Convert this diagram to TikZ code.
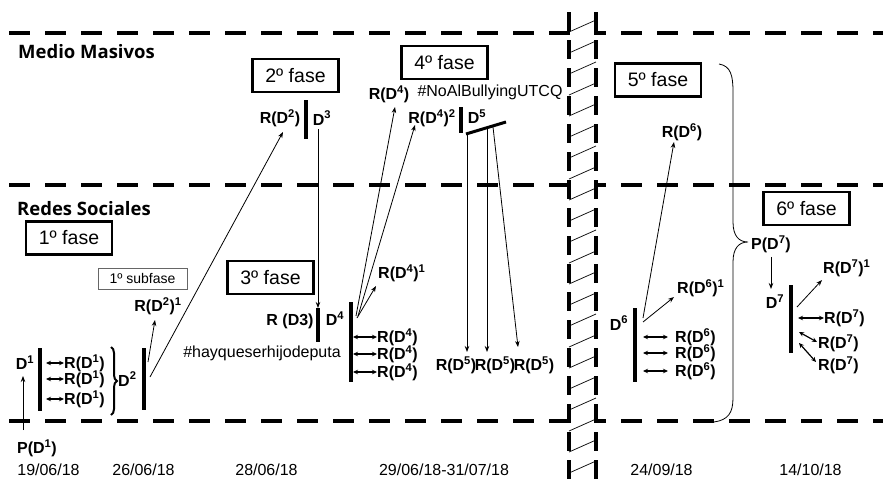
\documentclass[tikz,border=0pt]{standalone}
\usepackage{fontspec}
\setmainfont{Liberation Sans}
\newfontfamily\headfont{Open Sans}
\usetikzlibrary{arrows.meta,decorations.pathreplacing}
\newcommand\Sp[1]{\textsuperscript{#1}}
\begin{document}
\begin{tikzpicture}[x=1pt,y=-1pt,
 hline/.style={line width=4.5pt, dash pattern=on 21pt off 15pt},
 vline/.style={line width=4pt, dash pattern=on 19pt off 9pt},
 bar/.style={line width=3.5pt},
 fasebox/.style={draw, line width=2.5pt, fill=white, minimum width=86pt, minimum height=33pt, inner sep=0pt, font=\fontsize{19.5}{19.5}\selectfont},
 lbl/.style={font=\bfseries\fontsize{16}{16}\selectfont, inner sep=0pt},
 txt/.style={font=\fontsize{16}{16}\selectfont, inner sep=0pt},
 head/.style={font=\headfont\bfseries\fontsize{18.5}{18.5}\selectfont, inner sep=0pt, anchor=west},
 arr/.style={line width=0.8pt, -{Stealth[length=6pt,width=4.5pt]}},
 darr/.style={line width=1.2pt, {Stealth[length=5pt,width=4.5pt]}-{Stealth[length=5pt,width=4.5pt]}},
]
\useasboundingbox (0,0) rectangle (883,479);
\fill[white] (0,0) rectangle (883,479);
% horizontal bands
\draw[hline] (9,33) -- (883,33);
\draw[hline] (9,185) -- (883,185);
\draw[hline] (9,421) -- (883,421);
% hatched column
\fill[white] (571,0) rectangle (594,479);
\foreach \y in {26,47,...,478} \draw[line width=0.7pt] (569,\y+6) -- (596,\y-6);
\draw[vline] (569,12) -- (569,479);
\draw[vline] (596,12) -- (596,479);

\node[head] (medio) at (18,52) {Medio Masivos};
\node[head] (redes) at (17,209) {Redes Sociales};

% phase boxes
\node[fasebox] (f1) at (69,238) {1º fase};
\node[fasebox] (f2) at (295.5,75.5) {2º fase};
\node[fasebox] (f3) at (270.5,277.5) {3º fase};
\node[fasebox] (f4) at (444.5,62.5) {4º fase};
\node[fasebox] (f5) at (658,80) {5º fase};
\node[fasebox] (f6) at (806.5,208.5) {6º fase};
\node[draw=black!60, line width=0.6pt, minimum width=89pt, minimum height=21pt, inner sep=0pt, font=\fontsize{14}{14}\selectfont] (sub1) at (142.5,278.5) {1º subfase};

% ---- 1st phase
\node[lbl] (p1) at (37,448) {P(D\Sp{1})};
\node[lbl] (d1) at (25,363) {D\Sp{1}};
\coordinate (p1a) at (23,430);
\coordinate (p1b) at (23,376);
\draw[arr] (p1a) -- (p1b);
\draw[bar] (40,348) coordinate (b1t) -- (40,411) coordinate (b1b);
\foreach \i/\y in {1/363,2/379,3/399}{
  \node[lbl,anchor=west] (r1\i) at (64,\y) {R(D\Sp{1})};
  \draw[darr] (46,\y) -- (r1\i.west);
}
\draw[line width=2pt, decorate, decoration={brace, amplitude=6pt}] (111,347) coordinate (brt) -- (111,415) coordinate (brb);
\node[lbl,anchor=west] (d2) at (118,379) {D\Sp{2}};
\draw[bar] (144,348) coordinate (b2t) -- (144,410) coordinate (b2b);
\node[lbl] (r2a) at (158,306) {R(D\Sp{2})\Sp{1}};
\coordinate (s2a) at (148,362);
\coordinate (s2b) at (150,377);
\draw[arr] (s2a) -- (155,320);

% ---- 2nd phase
\node[lbl] (r2) at (280,118) {R(D\Sp{2})};
\draw[arr] (s2b) -- (283,132);
\draw[bar] (306,100) -- (306,139);
\node[lbl] (d3) at (322,118) {D\Sp{3}};
\coordinate (s3) at (318,129);

% ---- 3rd phase
\node[lbl] (r3) at (290,321) {R (D3)};
\draw[bar] (318,308) coordinate (b4t) -- (318,342);
\draw[arr] (s3) -- (b4t);
\node[lbl] (d4) at (335,319) {D\Sp{4}};
\node[txt] (hay) at (262,353) {\#hayqueserhijodeputa};
\draw[bar] (351,302) -- (351,382);
\coordinate (s4) at (357,318);
\node[lbl,anchor=west] (r4a) at (378,273) {R(D\Sp{4})\Sp{1}};
\draw[arr] (s4) -- (376,286);
\foreach \i/\y in {1/337,2/354,3/372}{
  \node[lbl,anchor=west] (r4\i) at (377,\y) {R(D\Sp{4})};
  \draw[darr] (353,\y) -- (r4\i.west);
}

% ---- 4th phase
\node[lbl] (r4t) at (389,94) {R(D\Sp{4})};
\node[lbl] (r4s) at (432,118) {R(D\Sp{4})\Sp{2}};
\draw[arr] (356,316) -- (395,107);
\draw[arr] (358,316) -- (415,125);
\node[txt] (noal) at (490,92) {\#NoAlBullyingUTCQ};
\draw[bar] (461,107) -- (461,133);
\node[lbl] (d5) at (477,117) {D\Sp{5}};
\draw[line width=3pt] (466,134) coordinate (s5a) -- (506,122) coordinate (s5e);
\node[lbl] (r51) at (456,365) {R(D\Sp{5})};
\node[lbl] (r52) at (495,365) {R(D\Sp{5})};
\node[lbl] (r53) at (534,365) {R(D\Sp{5})};
\coordinate (s5b) at (487,128);
\coordinate (s5c) at (493,127);
\draw[arr] (467,134) -- (467,352);
\draw[arr] (s5b) -- (487,352);
\draw[arr] (s5c) -- (518,347);

% ---- 5th phase
\node[lbl] (r6t) at (682,132) {R(D\Sp{6})};
\draw[bar] (635,308) -- (635,382);
\node[lbl] (d6) at (619,323) {D\Sp{6}};
\coordinate (s6) at (643,318);
\draw[arr] (s6) -- (674,142);
\node[lbl,anchor=west] (r6a) at (677,288) {R(D\Sp{6})\Sp{1}};
\draw[arr] (643,322) -- (674,297);
\foreach \i/\y in {1/337,2/353,3/371}{
  \node[lbl,anchor=west] (r6\i) at (675,\y) {R(D\Sp{6})};
  \draw[darr] (643,\y) -- (668,\y);
}

% big brace
\draw[line width=0.8pt] (719,64) .. controls (731,66) and (733,76) .. (733,92) -- (733,222)
  .. controls (733,236) and (739,242) .. (748,242)
  .. controls (739,242) and (733,248) .. (733,262) -- (733,398)
  .. controls (733,413) and (728,420) .. (714,422);

% ---- 6th phase
\node[lbl] (p7) at (771,244) {P(D\Sp{7})};
\node[lbl] (d7) at (775,302) {D\Sp{7}};
\draw[arr] (p7.south) ++(0,4) -- (771,289);
\draw[bar] (791,285) -- (791,353);
\node[lbl,anchor=west] (r7a) at (823,268) {R(D\Sp{7})\Sp{1}};
\draw[arr] (797,307) -- (822,280);
\node[lbl,anchor=west] (r71) at (824,318) {R(D\Sp{7})};
\node[lbl,anchor=west] (r72) at (818,343) {R(D\Sp{7})};
\node[lbl,anchor=west] (r73) at (818,365) {R(D\Sp{7})};
\draw[darr] (798,318) -- (r71.west);
\draw[darr] (799,332) -- (817,342);
\draw[darr] (799,343) -- (816,362);

% dates
\node[txt] (t1) at (48.5,470) {19/06/18};
\node[txt] (t2) at (143.5,470) {26/06/18};
\node[txt] (t3) at (266.5,470) {28/06/18};
\node[txt] (t4) at (444,470) {29/06/18-31/07/18};
\node[txt] (t5) at (661.5,470) {24/09/18};
\node[txt] (t6) at (810.5,470) {14/10/18};
\end{tikzpicture}
\end{document}
